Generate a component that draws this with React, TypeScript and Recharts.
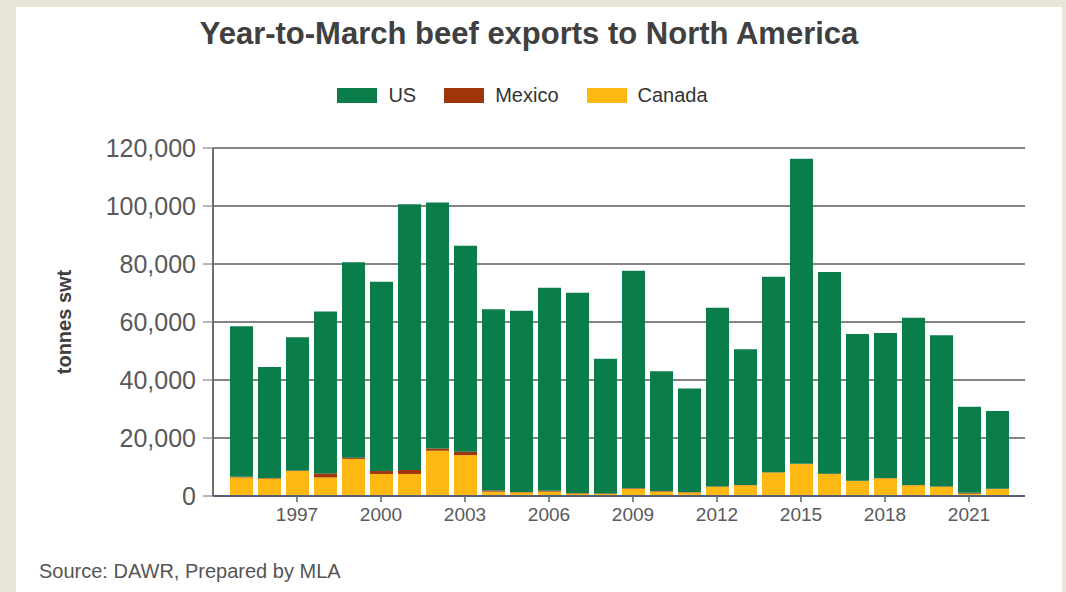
import { BarChart, Bar, XAxis, YAxis, CartesianGrid, Legend } from 'recharts'

const years = [
  1995, 1996, 1997, 1998, 1999, 2000, 2001, 2002, 2003, 2004, 2005, 2006, 2007, 2008,
  2009, 2010, 2011, 2012, 2013, 2014, 2015, 2016, 2017, 2018, 2019, 2020, 2021, 2022,
]

// tonnes swt
const usValues = [
  51900, 38300, 45900, 55800, 67400, 65300, 91600, 84800, 71000, 62500, 62500, 70000, 69100, 46400,
  75000, 41300, 35700, 61600, 46800, 67400, 105200, 69500, 50600, 50000, 57700, 52100, 29700, 26800,
]
const mexicoValues = [
  200, 200, 200, 1400, 400, 1000, 1400, 800, 1200, 400, 200, 300, 200, 200,
  200, 200, 200, 100, 100, 100, 100, 100, 100, 100, 100, 100, 300, 100,
]
const canadaValues = [
  6400, 6000, 8600, 6400, 12800, 7600, 7600, 15600, 14100, 1500, 1200, 1500, 800, 700,
  2500, 1500, 1200, 3200, 3700, 8100, 11000, 7600, 5200, 6100, 3700, 3200, 800, 2400,
]

const yTicks = [0, 20000, 40000, 60000, 80000, 100000, 120000]
const xTickYears = [1997, 2000, 2003, 2006, 2009, 2012, 2015, 2018, 2021]

const data = years.map((year, i) => ({
  year,
  us: usValues[i],
  mexico: mexicoValues[i],
  canada: canadaValues[i],
}))

const FONT = '"Liberation Sans", Arial, sans-serif'

function YearTick({ x, y, payload }: any) {
  if (!xTickYears.includes(Number(payload.value))) return <g />
  return (
    <g>
      <line x1={x} x2={x} y1={y - 8} y2={y - 2} stroke="#56607a" strokeWidth={1.5} />
      <text x={x} y={y + 17} textAnchor="middle" fill="#595959" fontSize={19} fontFamily={FONT}>
        {payload.value}
      </text>
    </g>
  )
}

function LegendContent({ payload }: any) {
  const items = [...(payload ?? [])].reverse()
  return (
    <div style={{ display: 'flex', justifyContent: 'center', alignItems: 'center', height: 20, fontFamily: FONT }}>
      {items.map((item: any, i: number) => (
        <div key={item.value} style={{ display: 'flex', alignItems: 'center', marginLeft: i === 0 ? 0 : 28 }}>
          <span style={{ display: 'inline-block', width: 40, height: 15, background: item.color, marginRight: 11 }} />
          <span style={{ fontSize: 20, color: '#333' }}>{item.value}</span>
        </div>
      ))}
    </div>
  )
}

export default function App() {
  return (
    <div style={{ position: 'absolute', left: 0, top: 0, width: 1066, height: 592, background: '#e9e5d9', fontFamily: FONT }}>
      <div style={{ position: 'absolute', left: 16, top: 7, width: 1046, height: 585, background: '#fff' }} />
      <div
        style={{
          position: 'absolute', left: 0, top: 18, width: 1058, textAlign: 'center',
          fontSize: 31, fontWeight: 'bold', lineHeight: 1, color: '#404040',
        }}
      >
        Year-to-March beef exports to North America
      </div>
      <div style={{ position: 'absolute', left: 0, top: 0 }}>
        <BarChart width={1066} height={592} data={data} margin={{ top: 128, right: 41, left: 0, bottom: 56 }}>
          <CartesianGrid vertical={false} stroke="#5a5a5a" strokeWidth={1.3} />
          <XAxis
            dataKey="year"
            interval={0}
            height={40}
            padding={{ left: 14, right: 14 }}
            tickLine={false}
            tickSize={6}
            tickMargin={2}
            axisLine={{ stroke: '#56607a', strokeWidth: 2 }}
            tick={<YearTick />}
          />
          <YAxis
            width={213}
            domain={[0, 120000]}
            ticks={yTicks}
            interval={0}
            tickSize={10}
            tickMargin={7}
            tickFormatter={(v) => Number(v).toLocaleString('en-US')}
            tick={{ fontSize: 25, fill: '#595959', fontFamily: FONT }}
            axisLine={{ stroke: '#6e6e6e', strokeWidth: 2 }}
            tickLine={{ stroke: '#6e6e6e' }}
            label={{
              value: 'tonnes swt', angle: -90, position: 'center', dx: -43,
              style: { fontSize: 20, fontWeight: 'bold', fill: '#404040', fontFamily: FONT },
            }}
          />
          <Legend verticalAlign="top" content={<LegendContent />} wrapperStyle={{ top: 85, left: 0, width: 1045 }} />
          <Bar dataKey="canada" name="Canada" stackId="a" fill="#fdb813" barSize={23} isAnimationActive={false} />
          <Bar dataKey="mexico" name="Mexico" stackId="a" fill="#a0350a" barSize={23} isAnimationActive={false} />
          <Bar dataKey="us" name="US" stackId="a" fill="#0b7d4a" barSize={23} isAnimationActive={false} />
        </BarChart>
      </div>
      <div style={{ position: 'absolute', left: 39, top: 560, fontSize: 20, color: '#555' }}>
        Source: DAWR, Prepared by MLA
      </div>
    </div>
  )
}
